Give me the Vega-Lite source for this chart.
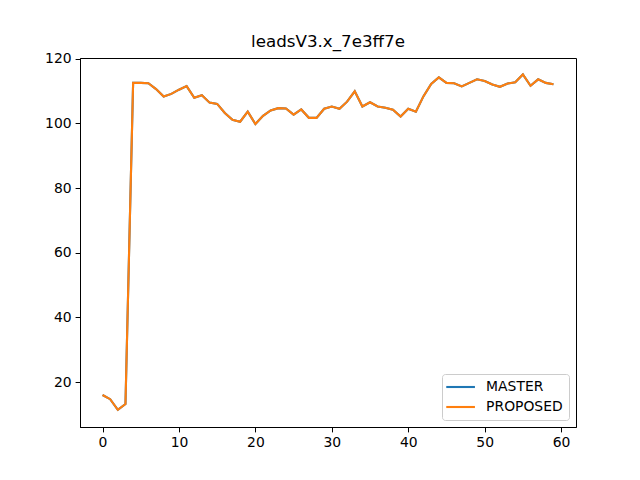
{
  "$schema": "https://vega.github.io/schema/vega-lite/v6.json",
  "autosize": "none",
  "width": 496,
  "height": 369,
  "padding": {"left": 80, "top": 58, "right": 64, "bottom": 53},
  "background": "white",
  "title": {
    "text": "leadsV3.x_7e3ff7e",
    "font": "DejaVu Sans",
    "fontSize": 16.7,
    "fontWeight": "normal",
    "color": "black",
    "anchor": "middle",
    "offset": 1
  },
  "config": {
    "view": {"stroke": "black", "strokeWidth": 1},
    "axis": {
      "grid": false,
      "domainColor": "black",
      "tickColor": "black",
      "tickSize": 4.9,
      "labelColor": "black",
      "labelFont": "DejaVu Sans",
      "labelFontSize": 13.9,
      "labelPadding": 4,
      "title": null
    },
    "legend": {
      "labelFont": "DejaVu Sans",
      "labelFontSize": 13.9,
      "labelColor": "black"
    }
  },
  "data": {
    "values": [
      {"step": 0, "MASTER": 16.0, "PROPOSED": 16.0},
      {"step": 1, "MASTER": 14.7, "PROPOSED": 14.7},
      {"step": 2, "MASTER": 11.4, "PROPOSED": 11.4},
      {"step": 3, "MASTER": 13.2, "PROPOSED": 13.2},
      {"step": 4, "MASTER": 112.5, "PROPOSED": 112.5},
      {"step": 5, "MASTER": 112.5, "PROPOSED": 112.5},
      {"step": 6, "MASTER": 112.4, "PROPOSED": 112.4},
      {"step": 7, "MASTER": 110.6, "PROPOSED": 110.6},
      {"step": 8, "MASTER": 108.3, "PROPOSED": 108.3},
      {"step": 9, "MASTER": 109.1, "PROPOSED": 109.1},
      {"step": 10, "MASTER": 110.4, "PROPOSED": 110.4},
      {"step": 11, "MASTER": 111.5, "PROPOSED": 111.5},
      {"step": 12, "MASTER": 107.9, "PROPOSED": 107.9},
      {"step": 13, "MASTER": 108.7, "PROPOSED": 108.7},
      {"step": 14, "MASTER": 106.4, "PROPOSED": 106.4},
      {"step": 15, "MASTER": 106.0, "PROPOSED": 106.0},
      {"step": 16, "MASTER": 103.2, "PROPOSED": 103.2},
      {"step": 17, "MASTER": 101.1, "PROPOSED": 101.1},
      {"step": 18, "MASTER": 100.5, "PROPOSED": 100.5},
      {"step": 19, "MASTER": 103.6, "PROPOSED": 103.6},
      {"step": 20, "MASTER": 99.8, "PROPOSED": 99.8},
      {"step": 21, "MASTER": 102.3, "PROPOSED": 102.3},
      {"step": 22, "MASTER": 104.0, "PROPOSED": 104.0},
      {"step": 23, "MASTER": 104.7, "PROPOSED": 104.7},
      {"step": 24, "MASTER": 104.6, "PROPOSED": 104.6},
      {"step": 25, "MASTER": 102.7, "PROPOSED": 102.7},
      {"step": 26, "MASTER": 104.3, "PROPOSED": 104.3},
      {"step": 27, "MASTER": 101.7, "PROPOSED": 101.7},
      {"step": 28, "MASTER": 101.7, "PROPOSED": 101.7},
      {"step": 29, "MASTER": 104.5, "PROPOSED": 104.5},
      {"step": 30, "MASTER": 105.2, "PROPOSED": 105.2},
      {"step": 31, "MASTER": 104.5, "PROPOSED": 104.5},
      {"step": 32, "MASTER": 106.7, "PROPOSED": 106.7},
      {"step": 33, "MASTER": 109.9, "PROPOSED": 109.9},
      {"step": 34, "MASTER": 105.2, "PROPOSED": 105.2},
      {"step": 35, "MASTER": 106.5, "PROPOSED": 106.5},
      {"step": 36, "MASTER": 105.2, "PROPOSED": 105.2},
      {"step": 37, "MASTER": 104.8, "PROPOSED": 104.8},
      {"step": 38, "MASTER": 104.2, "PROPOSED": 104.2},
      {"step": 39, "MASTER": 102.1, "PROPOSED": 102.1},
      {"step": 40, "MASTER": 104.5, "PROPOSED": 104.5},
      {"step": 41, "MASTER": 103.6, "PROPOSED": 103.6},
      {"step": 42, "MASTER": 108.4, "PROPOSED": 108.4},
      {"step": 43, "MASTER": 112.2, "PROPOSED": 112.2},
      {"step": 44, "MASTER": 114.2, "PROPOSED": 114.2},
      {"step": 45, "MASTER": 112.5, "PROPOSED": 112.5},
      {"step": 46, "MASTER": 112.4, "PROPOSED": 112.4},
      {"step": 47, "MASTER": 111.4, "PROPOSED": 111.4},
      {"step": 48, "MASTER": 112.5, "PROPOSED": 112.5},
      {"step": 49, "MASTER": 113.6, "PROPOSED": 113.6},
      {"step": 50, "MASTER": 113.1, "PROPOSED": 113.1},
      {"step": 51, "MASTER": 112.0, "PROPOSED": 112.0},
      {"step": 52, "MASTER": 111.3, "PROPOSED": 111.3},
      {"step": 53, "MASTER": 112.3, "PROPOSED": 112.3},
      {"step": 54, "MASTER": 112.7, "PROPOSED": 112.7},
      {"step": 55, "MASTER": 115.1, "PROPOSED": 115.1},
      {"step": 56, "MASTER": 111.6, "PROPOSED": 111.6},
      {"step": 57, "MASTER": 113.6, "PROPOSED": 113.6},
      {"step": 58, "MASTER": 112.5, "PROPOSED": 112.5},
      {"step": 59, "MASTER": 112.1, "PROPOSED": 112.1}
    ]
  },
  "transform": [
    {"fold": ["MASTER", "PROPOSED"], "as": ["series", "value"]}
  ],
  "mark": {"type": "line", "strokeWidth": 2.1, "clip": true},
  "encoding": {
    "x": {
      "field": "step",
      "type": "quantitative",
      "scale": {"domain": [-2.95, 61.95], "nice": false, "zero": false},
      "axis": {"values": [0, 10, 20, 30, 40, 50, 60]}
    },
    "y": {
      "field": "value",
      "type": "quantitative",
      "scale": {"domain": [6.1, 120.2], "nice": false, "zero": false},
      "axis": {"values": [20, 40, 60, 80, 100, 120]}
    },
    "color": {
      "field": "series",
      "type": "nominal",
      "scale": {"domain": ["MASTER", "PROPOSED"], "range": ["#1f77b4", "#ff7f0e"]},
      "legend": {
        "title": null,
        "orient": "bottom-right",
        "offset": 7,
        "symbolType": "M-2.39,0H2.39",
        "symbolSize": 144,
        "symbolStrokeWidth": 2.1,
        "symbolOffset": 5.6,
        "labelOffset": 18,
        "rowPadding": 5,
        "padding": 5.5,
        "fillColor": "rgba(255,255,255,0.8)",
        "strokeColor": "#cccccc",
        "cornerRadius": 3
      }
    }
  }
}
